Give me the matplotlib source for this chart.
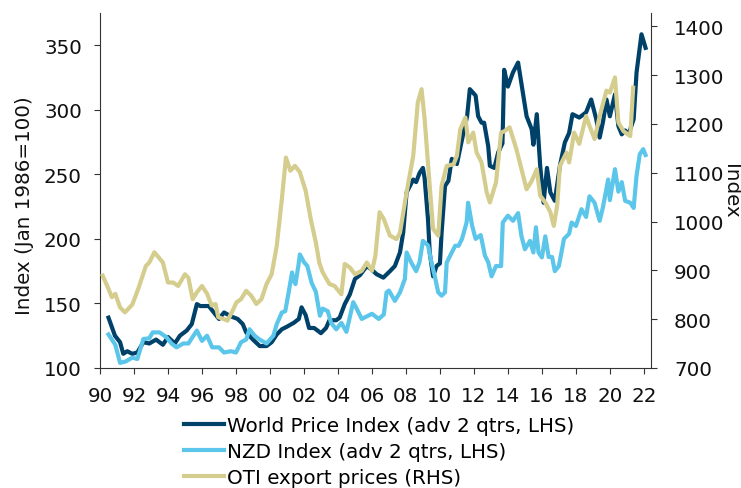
import numpy as np
import matplotlib
matplotlib.use("Agg")
import matplotlib.pyplot as plt

# World Price Index (adv 2 qtrs, LHS)
wpi_t = [1990.5, 1990.88, 1991.18, 1991.37, 1991.6, 1991.9, 1992.2, 1992.55, 1992.9, 1993.3,
         1993.7, 1994.0, 1994.4, 1994.7, 1995.1, 1995.4, 1995.7, 1995.9, 1996.4, 1996.7,
         1997.0, 1997.3, 1997.7, 1998.1, 1998.4, 1998.6, 1999.0, 1999.4, 1999.8, 2000.1,
         2000.4, 2000.7, 2001.0, 2001.4, 2001.7, 2001.86, 2002.1, 2002.3, 2002.6, 2003.0,
         2003.3, 2003.5, 2003.9, 2004.1, 2004.4, 2004.7, 2005.0, 2005.3, 2005.7, 2006.0,
         2006.27, 2006.67, 2007.06, 2007.35, 2007.65, 2007.84, 2008.04, 2008.43, 2008.6, 2008.8,
         2009.0, 2009.1, 2009.3, 2009.4, 2009.6, 2009.8, 2010.0, 2010.1, 2010.3, 2010.5,
         2010.7, 2011.0, 2011.3, 2011.6, 2011.76, 2012.1, 2012.25, 2012.45, 2012.6, 2012.84,
         2012.94, 2013.2, 2013.43, 2013.68, 2013.78, 2014.0, 2014.3, 2014.6, 2014.8, 2015.1,
         2015.4, 2015.5, 2015.7, 2015.9, 2016.1, 2016.3, 2016.5, 2016.76, 2017.06, 2017.35,
         2017.6, 2017.8, 2018.2, 2018.6, 2018.9, 2019.2, 2019.4, 2019.6, 2019.8, 2020.0,
         2020.3, 2020.5, 2020.7, 2020.9, 2021.1, 2021.4, 2021.57, 2021.86, 2022.1]
wpi_v = [139, 125, 120, 111, 113, 111, 112, 120, 119, 122,
         118, 124, 119, 125, 129, 134, 149.5, 148, 148, 143,
         138, 143, 140, 138, 134, 127.6, 122, 117, 117, 120,
         126, 130, 132, 135, 138, 147, 141, 131, 131, 127,
         131, 137, 137, 139, 149.5, 157, 169, 172, 179, 176,
         172.7, 170, 175, 179, 189.5, 205, 236, 246, 244, 251,
         255, 247, 215, 189.5, 171, 179, 181, 205, 241, 245,
         262, 258, 277, 295, 316, 311, 295, 290, 290, 272,
         256.6, 255, 267, 274, 331, 318, 329, 336.6, 320, 295,
         285, 273, 296.6, 256.6, 228, 255, 236, 229.5, 256.6, 274.7,
         282, 296.6, 294, 298, 308, 292.7, 278.5, 291, 308, 295,
         312, 287.5, 281, 284, 281, 292.7, 329, 358.5, 348]

# NZD Index (adv 2 qtrs, LHS)
nzd_t = [1990.5, 1990.9, 1991.18, 1991.5, 1991.9, 1992.2, 1992.55, 1992.9, 1993.1, 1993.5,
         1993.9, 1994.2, 1994.5, 1994.9, 1995.2, 1995.4, 1995.7, 1996.0, 1996.3, 1996.6,
         1997.0, 1997.3, 1997.7, 1998.0, 1998.3, 1998.6, 1998.8, 1999.1, 1999.4, 1999.8,
         2000.2, 2000.4, 2000.7, 2000.9, 2001.1, 2001.3, 2001.4, 2001.5, 2001.67, 2001.76,
         2002.0, 2002.2, 2002.45, 2002.7, 2002.94, 2003.1, 2003.4, 2003.6, 2003.9, 2004.2,
         2004.5, 2004.9, 2005.1, 2005.4, 2005.7, 2006.0, 2006.4, 2006.7, 2006.86, 2007.0,
         2007.35, 2007.65, 2007.94, 2008.04, 2008.3, 2008.6, 2008.8, 2009.0, 2009.3, 2009.5,
         2009.7, 2009.9, 2010.1, 2010.3, 2010.4, 2010.7, 2010.9, 2011.1, 2011.3, 2011.57,
         2011.66, 2011.9, 2012.1, 2012.4, 2012.65, 2012.84, 2013.04, 2013.3, 2013.6, 2013.7,
         2014.0, 2014.3, 2014.6, 2014.8, 2015.0, 2015.3, 2015.5, 2015.65, 2015.8, 2016.0,
         2016.2, 2016.4, 2016.6, 2016.76, 2017.0, 2017.3, 2017.6, 2017.75, 2018.0, 2018.33,
         2018.6, 2018.8, 2019.1, 2019.4, 2019.6, 2019.9, 2020.0, 2020.3, 2020.5, 2020.7,
         2020.9, 2021.2, 2021.4, 2021.57, 2021.76, 2021.96, 2022.1]
nzd_v = [126, 118, 104, 105, 108, 107, 122.5, 123, 127.6, 127.6,
         124, 119, 116, 119, 119, 123, 129, 121, 125, 116,
         116, 112, 113, 112, 120, 122, 130, 125, 122, 119,
         125, 134, 143, 144, 158.6, 174, 168, 165, 179, 188,
         182, 179, 166, 159, 140.5, 146, 144, 135, 130, 135,
         128, 151, 146, 138, 140, 142, 138, 141.5, 158.6, 160,
         152, 158.6, 169, 189.5, 182, 175, 182, 198.5, 195, 182,
         171, 158.6, 156, 158.6, 181.7, 189.5, 194.7, 194.7, 200, 212.7,
         228, 210, 200, 203, 187, 182, 171, 179, 179, 212.7,
         218, 214, 220, 202, 192, 198.5, 189.5, 209, 189.5, 185.7,
         202, 186, 186, 175, 179, 200, 204, 212.7, 210, 223,
         217, 233, 228, 214, 225, 246, 230, 254, 236.6, 244,
         229.5, 228, 224, 249, 265.6, 269.5, 265]

# OTI export prices (RHS)
oti_t = [1990.16, 1990.5, 1990.7, 1990.9, 1991.18, 1991.47, 1991.9, 1992.25, 1992.7, 1992.9,
         1993.2, 1993.7, 1994.0, 1994.3, 1994.6, 1995.0, 1995.2, 1995.45, 1995.7, 1996.0,
         1996.3, 1996.57, 1996.8, 1996.96, 1997.3, 1997.5, 1997.8, 1998.03, 1998.3, 1998.6,
         1998.9, 1999.2, 1999.5, 1999.8, 2000.1, 2000.4, 2000.7, 2000.94, 2001.2, 2001.47,
         2001.76, 2002.1, 2002.4, 2002.7, 2002.9, 2003.1, 2003.5, 2003.8, 2004.2, 2004.4,
         2004.7, 2005.0, 2005.4, 2005.7, 2006.0, 2006.2, 2006.45, 2006.7, 2007.06, 2007.45,
         2007.65, 2008.04, 2008.43, 2008.7, 2008.92, 2009.1, 2009.4, 2009.6, 2009.9, 2010.1,
         2010.4, 2010.8, 2011.0, 2011.2, 2011.5, 2011.67, 2011.96, 2012.16, 2012.45, 2012.75,
         2012.94, 2013.3, 2013.6, 2013.8, 2014.1, 2014.5, 2014.8, 2015.1, 2015.4, 2015.7,
         2015.9, 2016.2, 2016.5, 2016.7, 2016.9, 2017.06, 2017.45, 2017.6, 2017.9, 2018.2,
         2018.6, 2018.8, 2019.1, 2019.4, 2019.8, 2020.0, 2020.3, 2020.5, 2020.8, 2021.2,
         2021.37]
oti_v = [889, 862, 845, 852, 824, 814, 830, 862, 909, 916,
         937, 916, 875, 875, 868, 892, 885, 841, 855, 868,
         852, 828, 831, 804, 800, 797, 817, 834.5, 841, 858,
         848, 831, 841, 872, 892, 950, 1046, 1131, 1104, 1114,
         1101, 1063, 1005, 957, 916, 896, 872, 868, 851, 913,
         906, 892, 899, 916, 899, 929, 1019, 1005, 971, 964,
         977, 1060, 1134.5, 1244, 1271, 1210, 1073, 985, 971, 1073,
         1114, 1117, 1134.5, 1189, 1213, 1162, 1182, 1141, 1121, 1060,
         1039, 1080, 1182, 1185, 1193, 1148, 1107, 1066, 1083, 1107,
         1053, 1039, 1019, 991, 1033, 1114, 1141, 1121, 1182, 1159,
         1216, 1196, 1169, 1216, 1268, 1264, 1295, 1203, 1185, 1175,
         1274]

xticks = np.arange(1990, 2023, 2)
xlabels = ["%02d" % (y % 100) for y in xticks]

plt.rcParams['font.family'] = ['DejaVu Sans']
fs = 14.3

fig = plt.figure(figsize=(7.41, 4.89), dpi=100)
ax = fig.add_axes([100 / 741, 1 - 369 / 489, 551 / 741, 355 / 489])
ax2 = ax.twinx()

c_wpi = '#00416a'
c_nzd = '#5cc6ea'
c_oti = '#d5cd8e'

l1, = ax.plot(wpi_t, wpi_v, color=c_wpi, lw=3, solid_joinstyle='round')
l2, = ax.plot(nzd_t, nzd_v, color=c_nzd, lw=3, solid_joinstyle='round')
l3, = ax2.plot(oti_t, oti_v, color=c_oti, lw=3, solid_joinstyle='round')

ax.set_xlim(1990, 2022.42)
ax.set_ylim(100, 375)
ax2.set_ylim(700, 1427)
ax.set_yticks([100, 150, 200, 250, 300, 350])
ax2.set_yticks(range(700, 1401, 100))
ax.set_xticks(xticks)
ax.set_xticklabels(xlabels)

for a in (ax, ax2):
    a.spines['top'].set_visible(False)
    for s in a.spines.values():
        s.set_color('#333333')
    a.tick_params(labelsize=fs, length=4.5, color='#333333', labelcolor='#111111')
ax.tick_params(axis='y', pad=8.5)
ax.tick_params(axis='x', pad=8.5)
ax2.tick_params(axis='y', pad=12)
ax.spines['right'].set_visible(False)
ax2.spines['left'].set_visible(False)
ax2.spines['bottom'].set_visible(False)

ax.set_ylabel('Index (Jan 1986=100)', fontsize=fs, color='#111111')
ax.yaxis.set_label_coords(-0.12, 0.46)
ax2.set_ylabel('Index', fontsize=fs, rotation=-90, labelpad=11, color='#111111')

fig.legend([l1, l2, l3],
           ['World Price Index (adv 2 qtrs, LHS)', 'NZD Index (adv 2 qtrs, LHS)',
            'OTI export prices (RHS)'],
           loc='upper left', bbox_to_anchor=(174 / 741, 1 - 407 / 489),
           frameon=False, fontsize=fs, handlelength=2.0, handletextpad=0.15,
           labelspacing=0.36, borderpad=0)

fig.savefig('out.png', dpi=100)
